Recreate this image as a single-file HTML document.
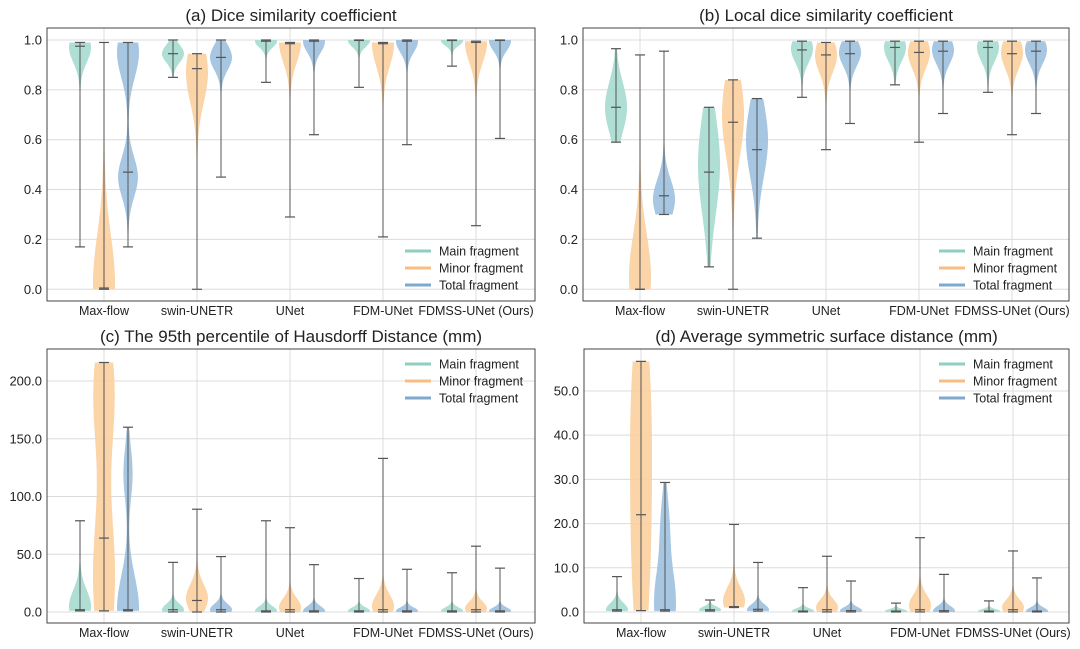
<!DOCTYPE html>
<html><head><meta charset="utf-8"><style>
body{margin:0;background:#fff;width:1080px;height:649px;overflow:hidden}
svg{display:block}
text{font-family:"Liberation Sans",sans-serif;fill:#222}
</style></head><body>
<svg id="fig" width="1080" height="649" viewBox="0 0 1080 649"></svg>
<script>
const categories = ["Max-flow","swin-UNETR","UNet","FDM-UNet","FDMSS-UNet (Ours)"];
const seriesNames = ["Main fragment","Minor fragment","Total fragment"];
// each stat: [main[], minor[], total[]]
// (a) Dice
const a_min = [[.17,.85,.83,.81,.895],[0,0,.29,.21,.255],[.17,.45,.62,.58,.605]];
const a_max = [[.99,1,1,1,1],[.99,.945,.99,.99,.995],[.99,1,1,1,1]];
const a_med = [[.975,.945,.995,.998,.998],[.005,.885,.985,.985,.99],[.47,.93,.995,.995,.998]];
const a_peak = [[.97,.945,.995,.997,.997],[.02,.87,.99,.985,.99],[.95,.93,.995,.995,.997]];
const a_spread = [[.06,.035,.025,.025,.02],[.2,.12,.08,.09,.08],[.1,.05,.045,.045,.04]];
const a_peak2 = [[0,0,0,0,0],[0,0,0,0,0],[.45,0,0,0,0]];
const a_w2 = [[0,0,0,0,0],[0,0,0,0,0],[.9,0,0,0,0]];
const a_ticks = [0,0.2,0.4,0.6,0.8,1.0];
// (b) Local dice
const b_min = [[.59,.09,.77,.82,.79],[0,0,.56,.59,.62],[.3,.205,.665,.705,.705]];
const b_max = [[.965,.73,.995,.995,.995],[.94,.84,.99,.995,.995],[.955,.765,.995,.995,.995]];
const b_med = [[.73,.47,.96,.97,.97],[0,.67,.94,.95,.945],[.375,.56,.945,.955,.955]];
const b_peak = [[.73,.5,.965,.97,.97],[.05,.7,.94,.95,.95],[.36,.6,.95,.96,.96]];
const b_spread = [[.1,.2,.055,.055,.055],[.17,.17,.07,.065,.065],[.08,.15,.055,.055,.055]];
const b_peak2 = [[0,0,0,0,0],[0,0,0,0,0],[0,0,0,0,0]];
const b_w2 = [[0,0,0,0,0],[0,0,0,0,0],[0,0,0,0,0]];
const b_ticks = [0,0.2,0.4,0.6,0.8,1.0];
// (c) HD95
const c_min = [[1,0,0,0,0],[1,0,0,0,0],[1,0,0,0,0]];
const c_max = [[79,43,79,29,34],[216,89,73,133,57],[160,48,41,37,38]];
const c_med = [[2,2,1,1,1],[64,10,2,2,2],[2,2,1,1,1]];
const c_peak = [[5,2,1,1,1],[30,12,4,5,3],[3,2,1,1,1]];
const c_spread = [[14,5,4,3,3],[60,12,8,10,6],[28,5,4,3,3]];
const c_peak2 = [[0,0,0,0,0],[190,0,0,0,0],[120,0,0,0,0]];
const c_w2 = [[0,0,0,0,0],[.95,0,0,0,0],[.4,0,0,0,0]];
const c_ticks = [0,50,100,150,200];
// (d) ASSD
const d_min = [[.2,.2,0,0,0],[.3,1,0,0,0],[.2,.2,0,0,0]];
const d_max = [[8,2.7,5.5,2,2.5],[56.7,19.8,12.6,16.8,13.8],[29.3,11.2,7,8.5,7.7]];
const d_med = [[.5,.5,.2,.2,.2],[22,1.2,.5,.5,.5],[.5,.6,.3,.3,.2]];
const d_peak = [[.5,.5,.2,.2,.2],[15,2.5,1,1.5,1],[2,.5,.3,.3,.2]];
const d_spread = [[1.5,.7,.6,.45,.45],[22,3,1.8,2.4,1.8],[8,1.2,.8,1,.8]];
const d_peak2 = [[0,0,0,0,0],[50,0,0,0,0],[20,0,0,0,0]];
const d_w2 = [[0,0,0,0,0],[.8,0,0,0,0],[.35,0,0,0,0]];
const d_ticks = [0,10,20,30,40,50];

const fills = ["#a6dccf","#fbcf9f","#9dc0de"];
const legendCols = ["#8ecfc0","#f9bd82","#7fa8cf"];
const NS = "http://www.w3.org/2000/svg";
const fig = document.getElementById('fig');
function mk(tag, attrs, parent){const e=document.createElementNS(NS,tag);for(const k in attrs)e.setAttribute(k,attrs[k]);(parent||fig).appendChild(e);return e;}

const panels = [
 {key:'a',title:"(a) Dice similarity coefficient",L:47,R:535,T:28,B:301,ymin:-0.047,ymax:1.048,legY:251,
  d:{min:a_min,max:a_max,med:a_med,peak:a_peak,spread:a_spread,peak2:a_peak2,w2:a_w2,ticks:a_ticks}},
 {key:'b',title:"(b) Local dice similarity coefficient",L:583,R:1069,T:28,B:301,ymin:-0.047,ymax:1.048,legY:251,
  d:{min:b_min,max:b_max,med:b_med,peak:b_peak,spread:b_spread,peak2:b_peak2,w2:b_w2,ticks:b_ticks}},
 {key:'c',title:"(c) The 95th percentile of Hausdorff Distance (mm)",L:47,R:535,T:349,B:623,ymin:-9.5,ymax:227.7,legY:364,
  d:{min:c_min,max:c_max,med:c_med,peak:c_peak,spread:c_spread,peak2:c_peak2,w2:c_w2,ticks:c_ticks}},
 {key:'d',title:"(d) Average symmetric surface distance (mm)",L:584,R:1069,T:349,B:623,ymin:-2.5,ymax:59.5,legY:364,
  d:{min:d_min,max:d_max,med:d_med,peak:d_peak,spread:d_spread,peak2:d_peak2,w2:d_w2,ticks:d_ticks}}
];

panels.forEach(p=>{
  const g = mk('g',{});
  
  
  const y = v => p.B - (v-p.ymin)/(p.ymax-p.ymin)*(p.B-p.T);
  const xc = i => p.L + 57 + i*93;
  const t = mk('text',{x:(p.L+p.R)/2,y:p.T-7,'text-anchor':'middle','font-size':17},g);
  t.textContent = p.title;
  
  
  p.d.ticks.forEach(v=>{
    mk('line',{x1:p.L,x2:p.R,y1:y(v),y2:y(v),stroke:'#dcdcdc','stroke-width':1},g);
    const tl = mk('text',{x:p.L-5,y:y(v)+4.5,'text-anchor':'end','font-size':13},g);
    tl.textContent = v.toFixed(1);
    
    
  });
  categories.forEach((c,i)=>{
    mk('line',{x1:xc(i),x2:xc(i),y1:p.T,y2:p.B,stroke:'#dcdcdc','stroke-width':1},g);
    const xl = mk('text',{x:xc(i),y:p.B+14,'text-anchor':'middle','font-size':12.5},g);
    xl.textContent = c;
    
    
  });
  for(let s=0;s<3;s++){
    for(let i=0;i<categories.length;i++){
      const mn=p.d.min[s][i], mx=p.d.max[s][i], md=p.d.med[s][i];
      const pk=p.d.peak[s][i], sp=p.d.spread[s][i], pk2=p.d.peak2[s][i], w2=p.d.w2[s][i];
      const cx = xc(i) + (s-1)*24;
      const N=80, vals=[], ws=[];
      let wmax=0;
      for(let k=0;k<=N;k++){
        const v = mn + (mx-mn)*k/N;
        let w = Math.exp(-0.5*Math.pow((v-pk)/sp,2));
        if(w2>0) w += w2*Math.exp(-0.5*Math.pow((v-pk2)/(sp*0.8),2));
        w += 0.03;
        vals.push(v); ws.push(w); if(w>wmax) wmax=w;
      }
      let d='';
      for(let k=0;k<=N;k++){const px=cx-ws[k]/wmax*11;d+=(k?'L':'M')+px.toFixed(1)+','+y(vals[k]).toFixed(1);}
      for(let k=N;k>=0;k--){const px=cx+ws[k]/wmax*11;d+='L'+px.toFixed(1)+','+y(vals[k]).toFixed(1);}
      d+='Z';
      const body = mk('path',{d:d,fill:fills[s],'fill-opacity':0.9,stroke:'none'},g);
      
      
      mk('line',{x1:cx,x2:cx,y1:y(mn),y2:y(mx),stroke:'#555','stroke-width':1},g);
      [mn,mx,md].forEach(v=>mk('line',{x1:cx-5,x2:cx+5,y1:y(v),y2:y(v),stroke:'#555','stroke-width':1.2},g));
    }
  }
  mk('rect',{x:p.L,y:p.T,width:p.R-p.L,height:p.B-p.T,fill:'none',stroke:'#444','stroke-width':1},g);
  const lx = p.R-130;
  seriesNames.forEach((n,s)=>{
    const ly = p.legY + s*17;
    mk('line',{x1:lx,x2:lx+26,y1:ly,y2:ly,stroke:legendCols[s],'stroke-width':3},g);
    const lt = mk('text',{x:lx+34,y:ly+4.5,'font-size':12.5},g);
    lt.textContent = n;
    
    
  });
});
</script>
</body></html>
